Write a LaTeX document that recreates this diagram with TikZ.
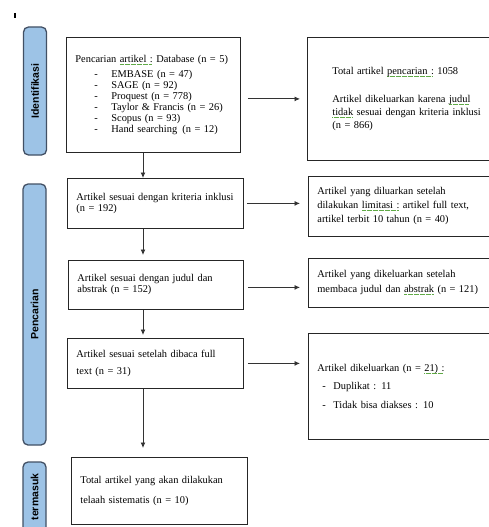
\documentclass[tikz,border=0pt]{standalone}
\usepackage{fontspec}
\setmainfont{Liberation Serif}
\newfontfamily\barfont{Liberation Sans}
\usepackage{xcolor}
\usetikzlibrary{arrows.meta}
\definecolor{barfill}{RGB}{157,195,230}
\definecolor{barline}{RGB}{66,80,100}
\definecolor{spellgreen}{RGB}{96,170,70}
\newcommand{\spellchk}[1]{\leavevmode\setbox0\hbox{#1}\rlap{\raisebox{-0.35ex}{\textcolor{spellgreen}{\leaders\hbox{\rule{0.7pt}{0.5pt}\kern0.5pt}\hskip\wd0}}}\copy0\relax}
\newcommand{\dashitem}[3]{\makebox[#2][l]{\hspace*{#1}-}#3}
\tikzset{
  phase/.style={draw=barline, line width=1.3pt, fill=barfill, rounded corners=5pt, rotate=90,
    minimum height=23pt, inner sep=0pt, font=\barfont\bfseries\fontsize{10.5}{12}\selectfont},
  stagebox/.style={draw=black!85, line width=0.8pt, anchor=north west, align=left,
    inner xsep=9pt, inner ysep=2pt, font=\fontsize{10.4}{11}\selectfont},
  flow/.style={-{Latex[length=5.5pt,width=5pt]}, draw=black!80, line width=0.9pt},
}

\begin{document}
\begin{tikzpicture}[x=1pt,y=-1pt]
\useasboundingbox (0,0) rectangle (489,527);
\clip (0,0) rectangle (489,527);
\draw[line width=1.3pt] (15,13) -- (15,18);
% phases
\node[phase, minimum width=128pt] (ident) at (35,91) {Identifikasi};
\node[phase, minimum width=261pt] (screen) at (34.5,314.5) {Pencarian};
\node[phase, minimum width=70pt] (incl) at (34.5,497) {termasuk};
% left column
\node[stagebox, text width=156pt, minimum height=115pt] (search) at (66,37)
  {Pencarian \spellchk{artikel :} Database (n = 5)\\[4pt]
   \dashitem{19pt}{36pt}{EMBASE (n = 47)}\\
   \dashitem{19pt}{36pt}{SAGE (n = 92)}\\
   \dashitem{19pt}{36pt}{Proquest (n = 778)}\\
   \dashitem{19pt}{36pt}{Taylor \& Francis (n = 26)}\\
   \dashitem{19pt}{36pt}{Scopus (n = 93)}\\
   \dashitem{19pt}{36pt}{Hand searching\, (n = 12)}};
\node[stagebox, text width=158pt, minimum height=50pt] (inclusion) at (67,178)
  {Artikel sesuai dengan kriteria inklusi\\(n = 192)};
\node[stagebox, text width=157pt, minimum height=49pt] (abstract) at (68,260)
  {Artikel sesuai dengan judul dan\\abstrak (n = 152)};
\node[stagebox, text width=158pt, minimum height=50pt] (fulltext) at (67,338)
  {Artikel sesuai setelah dibaca full\\[6pt]text (n = 31)};
\node[stagebox, text width=158pt, minimum height=67pt] (final) at (71,457)
  {Total artikel yang akan dilakukan\\[9pt]telaah sistematis (n = 10)};
% right column
\node[stagebox, inner xsep=25pt, text width=153pt, minimum height=123pt] (total) at (307,37)
  {Total artikel \spellchk{pencarian :} 1058\\[17pt]
   Artikel dikeluarkan karena \spellchk{judul}\\[2pt]
   \spellchk{tidak} sesuai dengan kriteria inklusi\\[2pt]
   (n = 866)};
\node[stagebox, text width=184pt, minimum height=60pt] (limit) at (308,176)
  {Artikel yang diluarkan setelah\\[3pt]
   dilakukan \spellchk{limitasi :} artikel full text,\\[3pt]
   artikel terbit 10 tahun (n = 40)};
\node[stagebox, text width=184pt, minimum height=49pt] (readout) at (308,258)
  {Artikel yang dikeluarkan setelah\\[4pt]
   membaca judul dan \spellchk{abstrak} (n = 121)};
\node[stagebox, text width=184pt, minimum height=106pt] (excluded) at (308,333)
  {Artikel dikeluarkan (n = \spellchk{21) :}\\[7.5pt]
   \dashitem{5pt}{16pt}{Duplikat : 11}\\[7.5pt]
   \dashitem{5pt}{16pt}{Tidak bisa diakses : 10}};
% arrows
\coordinate (spine) at (143,0);
\draw[flow] (search.south -| spine) -- (inclusion.north -| spine);
\draw[flow, shorten >=5pt] (inclusion.south -| spine) -- (abstract.north -| spine);
\draw[flow, shorten >=3pt] (abstract.south -| spine) -- (fulltext.north -| spine);
\draw[flow, shorten >=9pt] (fulltext.south -| spine) -- (final.north -| spine);
\draw[flow, shorten <=7pt, shorten >=7pt] (search.east |- total.west) -- (total.west);
\draw[flow, shorten <=3pt, shorten >=8pt] (inclusion.east) -- (inclusion.east -| limit.west);
\draw[flow, shorten <=4pt, shorten >=8pt] ([yshift=-2.5pt]abstract.east) -- ([yshift=-2.5pt]abstract.east -| readout.west);
\draw[flow, shorten <=4pt, shorten >=8pt] (fulltext.east) -- (fulltext.east -| excluded.west);
\end{tikzpicture}
\end{document}
